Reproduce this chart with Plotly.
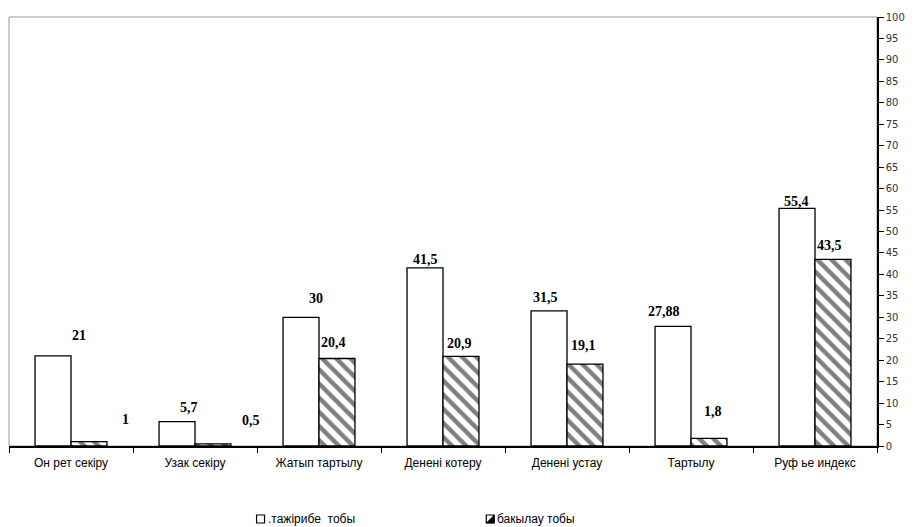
import plotly.graph_objects as go

categories = ["Он рет секіру", "Узак секіру", "Жатып тартылу", "Денені котеру",
              "Денені устау", "Тартылу", "Руф ье индекс"]
experimental = [21, 5.7, 30, 41.5, 31.5, 27.88, 55.4]
control = [1, 0.5, 20.4, 20.9, 19.1, 1.8, 43.5]
experimental_labels = ["21", "5,7", "30", "41,5", "31,5", "27,88", "55,4"]
control_labels = ["1", "0,5", "20,4", "20,9", "19,1", "1,8", "43,5"]
series_names = [".тажірибе  тобы", "бакылау тобы"]
y_ticks = list(range(0, 101, 5))

# label offsets (px) from the top-centre of each bar
exp_shift = [(26, 20), (12, 14), (15, 19), (0, 8), (-4, 13), (-9, 15), (-1, 7)]
ctl_shift = [(37, 22), (38, 23), (-3, 16), (-1, 13), (-1, 19), (4, 27), (-3, 14)]

W, H = 914, 527
ML, MR, MT, MB = 9, 32, 17, 81
PW, PH = W - ML - MR, H - MT - MB


def px_x(px):
    return (px - ML) / PW


def px_y(py):
    return (H - MB - py) / PH


fig = go.Figure()
fig.add_trace(go.Bar(
    x=categories, y=experimental, name=series_names[0],
    marker=dict(color="white", line=dict(color="black", width=1.3)),
    offsetgroup="a", showlegend=False,
))
fig.add_trace(go.Bar(
    x=categories, y=control, name=series_names[1],
    marker=dict(color="white", line=dict(color="black", width=1.3),
                pattern=dict(shape="\\", fgcolor="black", bgcolor="white",
                             size=10, solidity=0.45)),
    offsetgroup="b", showlegend=False,
))

label_font = dict(family="Liberation Serif", size=14, color="black")
half = 0.58 / 4  # half of one bar width in category units
for i, cat in enumerate(categories):
    for vals, texts, shifts, side in ((experimental, experimental_labels, exp_shift, -1),
                                      (control, control_labels, ctl_shift, 1)):
        dx, dy = shifts[i]
        fig.add_annotation(
            x=i + side * half, y=vals[i], xref="x", yref="y",
            text="<b>%s</b>" % texts[i], showarrow=False,
            xshift=dx, yshift=dy, font=label_font,
        )

# grey frame on the left and top of the plot area
fig.add_shape(type="rect", xref="paper", yref="paper", x0=0, y0=0, x1=1, y1=1,
              line=dict(color="#9a9a9a", width=1), layer="below")

# legend keys drawn below the chart
legend_font = dict(family="Liberation Sans", size=12, color="black")
key1 = (258, 515)
key2 = (489, 515)
k = 8
fig.add_shape(type="rect", xref="paper", yref="paper",
              x0=px_x(key1[0]), x1=px_x(key1[0] + k),
              y0=px_y(key1[1] + k), y1=px_y(key1[1]),
              line=dict(color="black", width=1.2), fillcolor="white")
fig.add_shape(type="rect", xref="paper", yref="paper",
              x0=px_x(key2[0]), x1=px_x(key2[0] + k),
              y0=px_y(key2[1] + k), y1=px_y(key2[1]),
              line=dict(color="black", width=1.2), fillcolor="white")
fig.add_shape(type="path", xref="paper", yref="paper",
              path="M %f,%f L %f,%f L %f,%f Z" % (
                  px_x(key2[0]), px_y(key2[1] + k),
                  px_x(key2[0] + k), px_y(key2[1] + k),
                  px_x(key2[0] + k), px_y(key2[1])),
              line=dict(color="black", width=0.5), fillcolor="black")
fig.add_annotation(x=px_x(key1[0] + k + 1), y=px_y(key1[1] + k / 2), xref="paper", yref="paper",
                   text=series_names[0], showarrow=False, xanchor="left", yanchor="middle",
                   font=legend_font)
fig.add_annotation(x=px_x(key2[0] + k + 1), y=px_y(key2[1] + k / 2), xref="paper", yref="paper",
                   text=series_names[1], showarrow=False, xanchor="left", yanchor="middle",
                   font=legend_font)

fig.update_layout(
    width=W, height=H,
    margin=dict(l=ML, r=MR, t=MT, b=MB),
    paper_bgcolor="white", plot_bgcolor="white",
    barmode="group", bargap=0.42, bargroupgap=0,
    showlegend=False,
    xaxis=dict(
        tickmode="array", tickvals=list(range(len(categories))), ticktext=categories,
        range=[-0.5, len(categories) - 0.5],
        showline=True, linecolor="black", linewidth=1.5,
        ticks="outside", tickson="boundaries", ticklen=5, tickcolor="black",
        ticklabelstandoff=5,
        tickfont=dict(family="Liberation Sans", size=12, color="black"),
        showgrid=False, zeroline=False,
    ),
    yaxis=dict(
        side="right", range=[0, 100], tickvals=y_ticks,
        showline=True, linecolor="black", linewidth=1.5,
        ticks="outside", ticklen=5, tickcolor="black",
        tickfont=dict(family="DejaVu Sans", size=10, color="#333333"),
        showgrid=False, zeroline=False,
    ),
)

fig.write_html("out.html")
